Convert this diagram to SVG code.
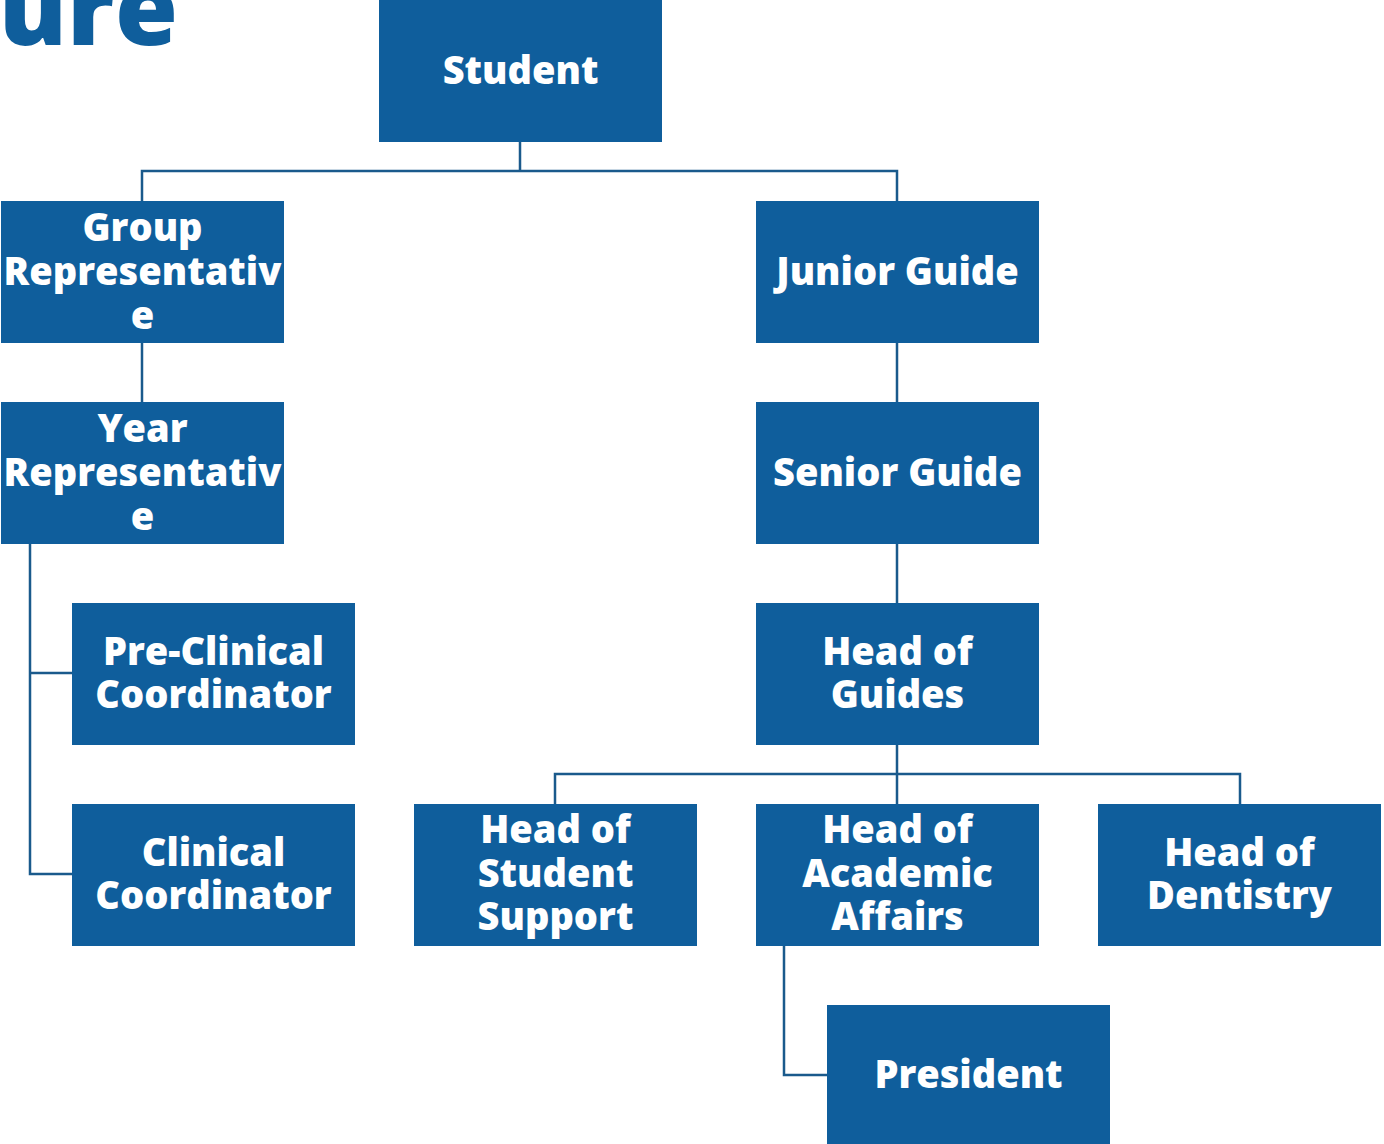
<svg xmlns="http://www.w3.org/2000/svg" width="1384" height="1144" viewBox="0 0 1384 1144">
  <style>
    .box { fill: #0f5e9c; }
    .lbl { fill: #ffffff; font-family: "Open Sans", "Noto Sans", sans-serif; font-weight: 800; font-size: 38px; text-anchor: middle; }
    .link { fill: none; stroke: #1a5a8c; stroke-width: 2.5; }
    .title { fill: #0f5e9c; font-family: "Open Sans", "Noto Sans", sans-serif; font-weight: 800; font-size: 102px; text-anchor: end; }
  </style>
  <rect width="1384" height="1144" fill="#ffffff"/>

  <!-- page heading, cut at the top-left edge -->
  <text class="title" x="178" y="45">ure</text>

  <!-- connectors -->
  <g id="connectors">
    <path class="link" d="M520,142 V171 M142,201 V171 H897 V201"/>
    <path class="link" d="M142,343 V402"/>
    <path class="link" d="M30,544 V874 H72 M30,673 H72"/>
    <path class="link" d="M897,343 V402 M897,544 V603"/>
    <path class="link" d="M897,745 V804 M555,804 V774 H1240 V804"/>
    <path class="link" d="M784,946 V1075 H827"/>
  </g>

  <g id="student">
    <rect class="box" x="379" y="0" width="283" height="142"/>
    <text class="lbl" x="520.5" y="84">Student</text>
  </g>
  <g id="group-representative">
    <rect class="box" x="1" y="201" width="283" height="142"/>
    <text class="lbl" x="142.5" y="241">Group</text>
    <text class="lbl" x="142.5" y="285">Representativ</text>
    <text class="lbl" x="142.5" y="329">e</text>
  </g>
  <g id="year-representative">
    <rect class="box" x="1" y="402" width="283" height="142"/>
    <text class="lbl" x="142.5" y="442">Year</text>
    <text class="lbl" x="142.5" y="486">Representativ</text>
    <text class="lbl" x="142.5" y="530">e</text>
  </g>
  <g id="pre-clinical-coordinator">
    <rect class="box" x="72" y="603" width="283" height="142"/>
    <text class="lbl" x="213.5" y="665">Pre-Clinical</text>
    <text class="lbl" x="213.5" y="708">Coordinator</text>
  </g>
  <g id="clinical-coordinator">
    <rect class="box" x="72" y="804" width="283" height="142"/>
    <text class="lbl" x="213.5" y="866">Clinical</text>
    <text class="lbl" x="213.5" y="909">Coordinator</text>
  </g>
  <g id="junior-guide">
    <rect class="box" x="756" y="201" width="283" height="142"/>
    <text class="lbl" x="897.5" y="285">Junior Guide</text>
  </g>
  <g id="senior-guide">
    <rect class="box" x="756" y="402" width="283" height="142"/>
    <text class="lbl" x="897.5" y="486">Senior Guide</text>
  </g>
  <g id="head-of-guides">
    <rect class="box" x="756" y="603" width="283" height="142"/>
    <text class="lbl" x="897.5" y="665">Head of</text>
    <text class="lbl" x="897.5" y="708">Guides</text>
  </g>
  <g id="head-of-student-support">
    <rect class="box" x="414" y="804" width="283" height="142"/>
    <text class="lbl" x="555.5" y="843">Head of</text>
    <text class="lbl" x="555.5" y="887">Student</text>
    <text class="lbl" x="555.5" y="930">Support</text>
  </g>
  <g id="head-of-academic-affairs">
    <rect class="box" x="756" y="804" width="283" height="142"/>
    <text class="lbl" x="897.5" y="843">Head of</text>
    <text class="lbl" x="897.5" y="887">Academic</text>
    <text class="lbl" x="897.5" y="930">Affairs</text>
  </g>
  <g id="head-of-dentistry">
    <rect class="box" x="1098" y="804" width="283" height="142"/>
    <text class="lbl" x="1239.5" y="866">Head of</text>
    <text class="lbl" x="1239.5" y="909">Dentistry</text>
  </g>
  <g id="president">
    <rect class="box" x="827" y="1005" width="283" height="142"/>
    <text class="lbl" x="968.5" y="1088">President</text>
  </g>
</svg>
